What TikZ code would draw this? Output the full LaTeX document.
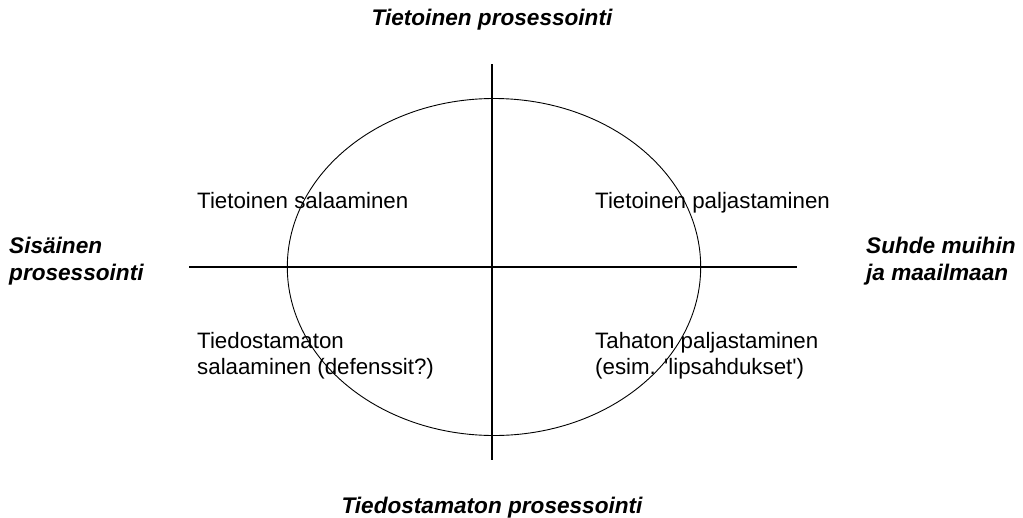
\documentclass[tikz,border=0pt]{standalone}
\usepackage{fontspec}
\setmainfont{Liberation Sans}
\usetikzlibrary{shapes.geometric}
\begin{document}
\begin{tikzpicture}[x=1pt,y=-1pt,
  lbl/.style={font=\fontsize{22.3}{26}\selectfont, anchor=base west, inner sep=0pt, align=left},
  ttl/.style={font=\fontsize{22.6}{27}\selectfont\bfseries\itshape, inner sep=0pt, align=left},
  axisline/.style={line width=1.1pt, black},
  oval/.style={ellipse, draw, line width=0.9pt, minimum width=413.4pt, minimum height=337pt, inner sep=0pt}]
\useasboundingbox (0,0) rectangle (1023,517);
\node[oval] (ell) at (494,267) {};
\coordinate (vt) at (492,64);
\coordinate (vb) at (492,460);
\coordinate (hl) at (189,267);
\coordinate (hr) at (797,267);
\draw[axisline] (vt) -- (vb);
\draw[axisline] (hl) -- (hr);
\node[ttl, anchor=base] (top) at (492,25) {Tietoinen prosessointi};
\node[ttl, anchor=base] (bot) at (492,513) {Tiedostamaton prosessointi};
\node[ttl, anchor=base west] (left) at (9,280) {Sisäinen\\prosessointi};
\node[ttl, anchor=base west] (right) at (866,280) {Suhde muihin\\ja maailmaan};
\node[lbl] (tl) at (197,208) {Tietoinen salaaminen};
\node[lbl] (tr) at (595,208) {Tietoinen paljastaminen};
\node[lbl] (bl) at (197,374) {Tiedostamaton\\salaaminen (defenssit?)};
\node[lbl] (br) at (595,374) {Tahaton paljastaminen\\(esim. \textquotesingle lipsahdukset\textquotesingle)};
\end{tikzpicture}
\end{document}
